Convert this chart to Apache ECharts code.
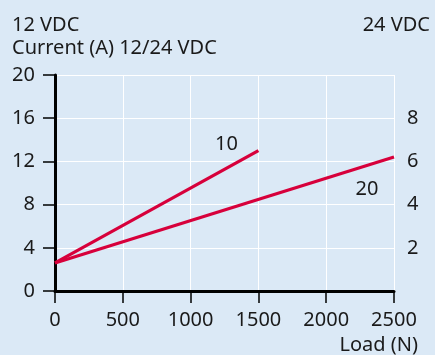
<!DOCTYPE html>
<html>
<head>
<meta charset="utf-8">
<script src="https://cdn.jsdelivr.net/npm/echarts@6/dist/echarts.min.js"></script>
<style>
  html, body { margin: 0; padding: 0; background: #dbe9f6; }
  #chart { width: 435px; height: 355px; }
</style>
</head>
<body>
<div id="chart"></div>
<script>
// Load (N) vs. current (A) for the 10 and 20 motor variants
const loadTicks = [0, 500, 1000, 1500, 2000, 2500];
const load10 = [0, 1500];
const current10 = [2.6, 13];
const load20 = [0, 2500];
const current20 = [2.6, 12.4];
const seriesNames = ['10', '20'];

const FONT = 'Noto Sans';
const INK = '#1a1a1a';
const RED = '#d7003b';

const chart = echarts.init(document.getElementById('chart'), null, { renderer: 'canvas' });

const pairs = (xs, ys) => xs.map((x, i) => [x, ys[i]]);
const headText = { fontFamily: FONT, fontSize: 20, fontWeight: 'normal', color: INK };

chart.setOption({
  backgroundColor: '#dbe9f6',
  animation: false,
  textStyle: { fontFamily: FONT, color: INK },
  title: [
    { text: '12 VDC', left: 12, top: 15, padding: 0, textStyle: headText },
    { text: 'Current (A) 12/24 VDC', left: 12, top: 38, padding: 0, textStyle: headText },
    { text: '24 VDC', right: 5, top: 15, padding: 0, textStyle: headText },
    { text: 'Load (N)', right: 17, top: 335, padding: 0, textStyle: headText }
  ],
  grid: { left: 55, right: 41, top: 75, bottom: 64, containLabel: false },
  xAxis: {
    type: 'value',
    min: 0, max: 2500, interval: 500,
    axisLine: { show: true, onZero: false, lineStyle: { color: '#000', width: 3 } },
    axisTick: { show: true, length: 12, lineStyle: { color: '#000', width: 1.5 } },
    axisLabel: { margin: 19, fontFamily: FONT, fontSize: 20, color: INK,
      formatter: v => loadTicks.includes(v) ? String(v) : '' },
    splitLine: { show: true, lineStyle: { color: '#ffffff', width: 1 } }
  },
  yAxis: [
    {
      type: 'value',
      min: 0, max: 20, interval: 4,
      axisLine: { show: true, onZero: false, lineStyle: { color: '#000', width: 3 } },
      axisTick: { show: true, length: 12, lineStyle: { color: '#000', width: 1.5 } },
      axisLabel: { margin: 20, fontFamily: FONT, fontSize: 20, color: INK },
      splitLine: { show: true, lineStyle: { color: '#ffffff', width: 1 } }
    },
    {
      type: 'value',
      position: 'right',
      min: 0, max: 10, interval: 2,
      axisLine: { show: false },
      axisTick: { show: false },
      splitLine: { show: false },
      axisLabel: { margin: 13, fontFamily: FONT, fontSize: 20, color: INK,
        formatter: v => (v === 0 || v === 10) ? '' : String(v) }
    }
  ],
  series: [
    {
      name: seriesNames[0],
      type: 'line',
      data: pairs(load10, current10),
      showSymbol: false,
      lineStyle: { color: RED, width: 3.2 },
      endLabel: { show: true, formatter: seriesNames[0], fontFamily: FONT, fontSize: 20, color: INK,
        align: 'center', verticalAlign: 'middle', distance: 0, offset: [-32, -6] }
    },
    {
      name: seriesNames[1],
      type: 'line',
      data: pairs(load20, current20),
      showSymbol: false,
      lineStyle: { color: RED, width: 3.2 },
      endLabel: { show: true, formatter: seriesNames[1], fontFamily: FONT, fontSize: 20, color: INK,
        align: 'center', verticalAlign: 'middle', distance: 0, offset: [-27, 32] }
    }
  ]
});
</script>
</body>
</html>
